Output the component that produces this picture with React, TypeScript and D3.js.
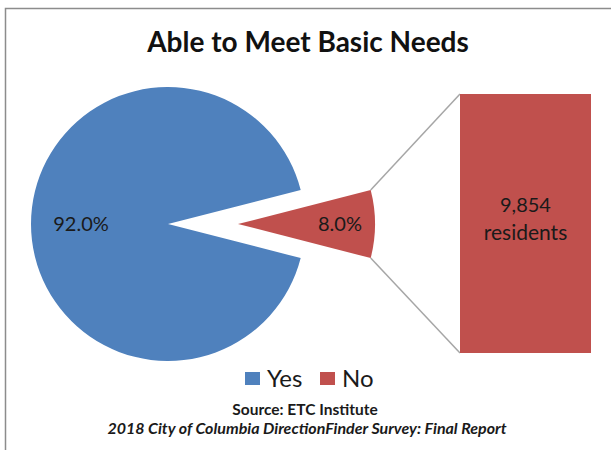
import React from "react";
import * as d3 from "d3";

const categories = ["Yes", "No"];
const values = [92.0, 8.0];
const barValueLabel = ["9,854", "residents"];
const titleText = "Able to Meet Basic Needs";
const sourceLines = ["Source: ETC Institute", "2018 City of Columbia DirectionFinder Survey: Final Report"];
const colors = ["#4F81BD", "#C0504D"];

const W = 611;
const H = 450;
const FONT = "Lato, 'Open Sans', sans-serif";

export default function App() {
  const cx = 168;
  const cy = 224;
  const r = 137;
  const explode = 70;
  const noHalf = (values[1] / d3.sum(values)) * Math.PI;
  const start = Math.PI / 2 + noHalf;
  const pie = d3.pie<number>().sort(null).startAngle(start).endAngle(start + 2 * Math.PI);
  const arcs = pie(values);
  const arcGen = d3.arc<d3.PieArcDatum<number>>().innerRadius(0).outerRadius(r);

  const offsets = arcs.map((a, i) => {
    const mid = (a.startAngle + a.endAngle) / 2;
    const d = i === 1 ? explode : 0;
    return [Math.sin(mid) * d, -Math.cos(mid) * d];
  });

  const noArc = arcs[1];
  const noCx = cx + offsets[1][0];
  const noCy = cy + offsets[1][1];
  const pt = (a: number) => [noCx + Math.sin(a) * r, noCy - Math.cos(a) * r];
  const pTop = pt(noArc.startAngle);
  const pBot = pt(noArc.endAngle);

  const barX0 = 460;
  const barX1 = 591;
  const y = d3.scaleLinear().domain([0, values[1]]).range([353, 94]);

  return (
    <svg width={W} height={H} style={{ position: "absolute", left: 0, top: 0 }} fontFamily={FONT}>
      <rect x={0} y={0} width={W} height={H} fill="#fff" />
      <path d={`M5.5,${H} L5.5,8.5 L${W},8.5`} fill="none" stroke="#8c8c8c" strokeWidth={1.5} />
      <text x={308} y={52} textAnchor="middle" fontSize={28} fontWeight="bold" fill="#111">
        {titleText}
      </text>

      {arcs.map((a, i) => (
        <path
          key={categories[i]}
          d={arcGen(a) || ""}
          transform={`translate(${cx + offsets[i][0]},${cy + offsets[i][1]})`}
          fill={colors[i]}
        />
      ))}

      <line x1={pTop[0]} y1={pTop[1]} x2={barX0} y2={y(values[1])} stroke="#a6a6a6" strokeWidth={1.5} />
      <line x1={pBot[0]} y1={pBot[1]} x2={barX0} y2={y(0)} stroke="#a6a6a6" strokeWidth={1.5} />

      <rect x={barX0} y={y(values[1])} width={barX1 - barX0} height={y(0) - y(values[1])} fill={colors[1]} />

      <text x={81} y={231} textAnchor="middle" fontSize={20} fill="#1a1a1a">
        {values[0].toFixed(1)}%
      </text>
      <text x={340} y={231} textAnchor="middle" fontSize={20} fill="#1a1a1a">
        {values[1].toFixed(1)}%
      </text>

      <text x={(barX0 + barX1) / 2} y={212} textAnchor="middle" fontSize={20} fill="#1a1a1a">
        {barValueLabel[0]}
      </text>
      <text x={(barX0 + barX1) / 2} y={240} textAnchor="middle" fontSize={21} fill="#1a1a1a">
        {barValueLabel[1]}
      </text>

      {categories.map((c, i) => {
        const lx = i === 0 ? 245 : 320;
        return (
          <g key={c}>
            <rect x={lx} y={372} width={15} height={13} fill={colors[i]} />
            <text x={lx + 22} y={387} fontSize={24} fill="#1a1a1a">
              {c}
            </text>
          </g>
        );
      })}

      <text x={305} y={415} textAnchor="middle" fontSize={15.5} fontWeight="bold" fill="#1a1a1a">
        {sourceLines[0]}
      </text>
      <text x={307} y={434} textAnchor="middle" fontSize={16} fontWeight="bold" fontStyle="italic" fill="#1a1a1a">
        {sourceLines[1]}
      </text>
    </svg>
  );
}
